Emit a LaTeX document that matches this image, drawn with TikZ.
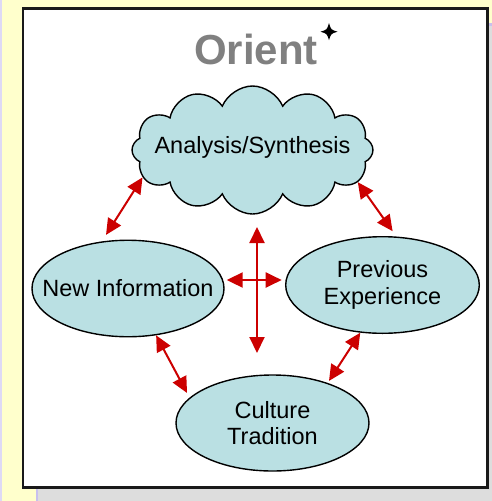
\documentclass[tikz,border=0pt]{standalone}
\usepackage{fontspec}
\setmainfont{Liberation Sans}
\usetikzlibrary{shapes.symbols,shapes.geometric,arrows.meta}
\definecolor{bgyellow}{HTML}{FFFFCC}
\definecolor{bggray}{HTML}{DDDDDD}
\definecolor{bglav}{HTML}{C8C0EE}
\definecolor{nodefill}{RGB}{186,224,227}
\definecolor{arrowred}{HTML}{CC0000}
\definecolor{titlegray}{HTML}{808080}
\begin{document}
\begin{tikzpicture}[x=1pt,y=-1pt,
  bubble/.style={ellipse, draw=black, line width=1.4pt, fill=nodefill,
    inner xsep=-30pt, inner ysep=0pt, align=center,
    font=\fontsize{23.5}{26.5}\selectfont},
  link/.style={arrowred, line width=2pt,
    {Triangle[length=16pt,width=15pt]}-{Triangle[length=16pt,width=15pt]}},
  labelfont/.style={font=\fontsize{23.5}{26.5}\selectfont}
]
% background
\useasboundingbox (0,0) rectangle (492,501);
\fill[bgyellow] (0,0) rectangle (492,501);
\fill[bglav!60] (0,0) rectangle (2,501);
\fill[bggray] (489,24) rectangle (492,501);
\fill[bggray] (36,489) rectangle (492,501);
\fill[bglav] (489,23) rectangle (492,25.5);
\fill[bglav] (36,489) rectangle (37.5,501);
% panel
\draw[line width=2.5pt, draw=black!90, fill=white] (23,8.7) rectangle (487.7,487.7);

% title and star
\node[font=\fontsize{42}{50}\selectfont\bfseries, text=titlegray, anchor=base, inner sep=0pt] (title) at (256,64) {Orient};
\fill[black] (329,23.2) .. controls (331,29.7) .. (337.5,31.7)
  .. controls (331,33.7) .. (329,40.2)
  .. controls (327,33.7) .. (320.5,31.7)
  .. controls (327,29.7) .. (329,23.2) -- cycle;

% cloud
\node[cloud, cloud puffs=12, cloud puff arc=135, cloud ignores aspect, draw=black,
  line width=1.4pt, fill=nodefill, minimum width=241pt, minimum height=128pt, inner sep=0pt,
  label={[labelfont, yshift=3pt]center:Analysis/Synthesis}] (cloud) at (252.5,150) {};

% ellipses
\node[bubble, minimum width=192pt, minimum height=96.5pt] (newinfo) at (128,288.5) {New Information};
\node[bubble, minimum width=193.6pt, minimum height=96.6pt] (previous) at (382.5,285) {Previous\\Experience};
\node[bubble, minimum width=193pt, minimum height=96pt] (culture) at (272.5,423) {Culture\\Tradition};

% connectors
\draw[link, shorten <=7.7pt] (newinfo.119.5) -- (cloud.194);
\draw[link, shorten >=6.5pt] (cloud.343) -- (previous.74);
\draw[link, shorten >=5.3pt] (newinfo.-59) -- (culture.163);
\draw[link, shorten >=2.4pt] (previous.245.7) -- (culture.36.5);

\coordinate (vtop) at (257,227);
\coordinate (vbot) at (257,353);
\coordinate (hleft) at (226.7,280);
\coordinate (hright) at (281.7,280);
\draw[link] (vtop) -- (vbot);
\draw[link] (hleft) -- (hright);
\end{tikzpicture}
\end{document}
